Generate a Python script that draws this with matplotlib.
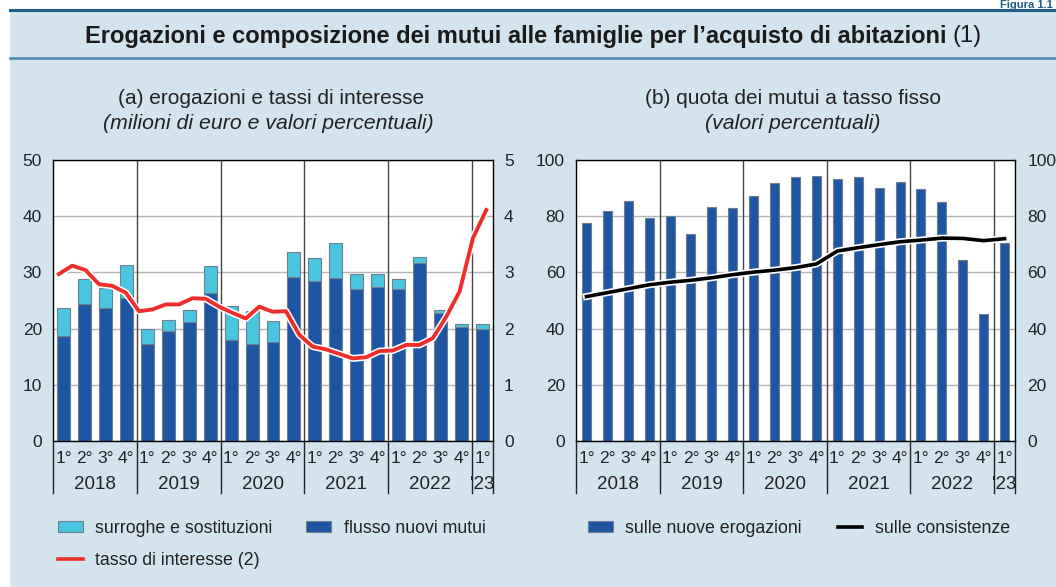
import numpy as np
import matplotlib.pyplot as plt
import matplotlib.patheffects as pe
from matplotlib.patches import Patch, Rectangle
from matplotlib.lines import Line2D
import matplotlib.transforms as mtransforms

plt.rcParams['font.family'] = ['Liberation Sans', 'DejaVu Sans']

# dati trimestrali 2018 Q1 - 2023 Q1
quarters = ['1°', '2°', '3°', '4°'] * 5 + ['1°']
years = ['2018', '2019', '2020', '2021', '2022', "'23"]

# (a) erogazioni (milioni di euro)
flusso_nuovi = [18.6, 24.3, 23.6, 25.5, 17.2, 19.5, 21.1, 26.3, 18.0, 17.3, 17.6,
                29.2, 28.4, 29.0, 27.1, 27.4, 27.1, 31.6, 22.7, 20.2, 19.9]
totale = [23.6, 28.8, 27.2, 31.3, 19.9, 21.5, 23.3, 31.1, 24.0, 23.1, 21.3,
          33.6, 32.5, 35.2, 29.7, 29.7, 28.8, 32.7, 23.3, 20.8, 20.8]
surroghe = [t - f for t, f in zip(totale, flusso_nuovi)]

# tasso di interesse (valori percentuali), osservazioni bimestrali
tasso = [2.97, 3.12, 3.04, 2.79, 2.76, 2.64, 2.31, 2.34, 2.43, 2.43, 2.54,
         2.53, 2.39, 2.28, 2.18, 2.39, 2.30, 2.31, 1.89, 1.68, 1.63, 1.55,
         1.47, 1.49, 1.60, 1.61, 1.71, 1.71, 1.83, 2.21, 2.66, 3.61, 4.11]

# (b) quota dei mutui a tasso fisso
nuove_erogazioni = [77.6, 81.7, 85.3, 79.2, 80.1, 73.7, 83.2, 82.8, 87.1, 91.8, 94.1,
                    94.2, 93.4, 94.1, 90.2, 92.1, 89.6, 85.2, 64.4, 45.1, 70.3]
consistenze = [51.4, 52.8, 54.2, 55.6, 56.5, 57.2, 58.1, 59.2, 60.1, 60.8, 61.7,
               63.0, 67.6, 68.8, 69.9, 70.9, 71.5, 72.2, 72.1, 71.3, 72.0]

W, H = 1056, 587
bg = '#d3e4ee'
dark = '#1f56a3'
cyan = '#49c5df'
red = '#ec2f2b'
edge = '#6f7f8f'
txt = '#222222'


def fx(px):
    return px / W


def fy(py):
    return 1 - py / H


fig = plt.figure(figsize=(W / 100, H / 100), dpi=100, facecolor=bg)

# cornice in alto / a sinistra
fig.patches.append(Rectangle((0, fy(10)), 1, 1 - fy(10), transform=fig.transFigure,
                             facecolor='white', edgecolor='none', zorder=0))
fig.patches.append(Rectangle((0, 0), fx(10), 1, transform=fig.transFigure,
                             facecolor='white', edgecolor='none', zorder=0))
fig.add_artist(Line2D([fx(10), 1], [fy(10), fy(10)], color='#1d5f8a', lw=2.2))
fig.add_artist(Line2D([fx(10), 1], [fy(58), fy(58)], color='#4a88b2', lw=1.8))
fig.text(fx(1053), fy(8.5), 'Figura 1.1', color='#1d5f8a', fontsize=8,
         fontweight='bold', ha='right', va='baseline')

t1 = fig.text(fx(85), fy(36), 'Erogazioni e composizione dei mutui alle famiglie per l’acquisto di abitazioni',
              fontsize=17, fontweight='bold', ha='left', va='center', color='#1a1a1a')
fig.canvas.draw()
bb = t1.get_window_extent()
fig.text(bb.x1 / W + fx(6), fy(36), '(1)', fontsize=17, ha='left', va='center', color='#1a1a1a')

x = np.arange(len(quarters))


def setup(ax, ymax, ystep):
    ax.set_facecolor('white')
    ax.set_xlim(-0.5, len(quarters) - 0.5)
    ax.set_ylim(0, ymax)
    ax.set_yticks(np.arange(0, ymax + 0.1, ystep))
    ax.tick_params(axis='y', length=0, pad=8, labelsize=12.5, colors=txt)
    ax.tick_params(axis='x', length=0, labelbottom=False)
    ax.grid(axis='y', color='#b5b5b5', lw=1)
    ax.set_axisbelow(True)
    for s in ax.spines.values():
        s.set_color('black')
        s.set_linewidth(1)
    for b in [3.5, 7.5, 11.5, 15.5, 19.5]:
        ax.axvline(b, color='#444444', lw=1, zorder=1)
    trans = mtransforms.blended_transform_factory(ax.transData, ax.transAxes)
    for b in [-0.5, 3.5, 7.5, 11.5, 15.5, 19.5, 20.5]:
        ax.plot([b, b], [0, -0.185], color=txt, lw=1, transform=trans, clip_on=False)
    for i, q in enumerate(quarters):
        ax.text(i, -0.062, q, transform=trans, ha='center', va='center', fontsize=12.5, color=txt)
    for k, yr in enumerate(years):
        xc = 20 if k == 5 else 4 * k + 1.5
        ax.text(xc, -0.155, yr, transform=trans, ha='center', va='center', fontsize=13.5, color=txt)


halo = [pe.Stroke(linewidth=5, foreground='white'), pe.Normal()]

# (a)
axL = fig.add_axes([fx(53), fy(441), fx(493) - fx(53), fy(160) - fy(441)])
setup(axL, 50, 10)
axL.bar(x, flusso_nuovi, width=0.62, color=dark, edgecolor=edge, lw=0.8, zorder=2)
axL.bar(x, surroghe, bottom=flusso_nuovi, width=0.62, color=cyan, edgecolor=edge, lw=0.8, zorder=2)
axR = axL.twinx()
axR.set_ylim(0, 5)
axR.set_yticks(range(6))
axR.tick_params(axis='y', length=0, pad=8, labelsize=12.5, colors=txt)
for s in axR.spines.values():
    s.set_visible(False)
xt = np.linspace(-0.22, 20.18, len(tasso))
axR.plot(xt, tasso, color=red, lw=2.8, path_effects=halo, solid_joinstyle='round')

fig.text(fx(271), fy(99), '(a) erogazioni e tassi di interesse', ha='center', va='center',
         fontsize=15, color=txt)
fig.text(fx(268), fy(123), '(milioni di euro e valori percentuali)', ha='center', va='center',
         fontsize=15.3, style='italic', color=txt)

# (b)
axB = fig.add_axes([fx(576), fy(441), fx(1015) - fx(576), fy(160) - fy(441)])
setup(axB, 100, 20)
axB.bar(x, nuove_erogazioni, width=0.43, color=dark, edgecolor=edge, lw=0.8, zorder=2)
axB.plot(x, consistenze, color='black', lw=2.6, path_effects=halo, zorder=3)
axB2 = axB.twinx()
axB2.set_ylim(0, 100)
axB2.set_yticks(range(0, 101, 20))
axB2.tick_params(axis='y', length=0, pad=9, labelsize=12.5, colors=txt)
for s in axB2.spines.values():
    s.set_visible(False)

fig.text(fx(793), fy(99), '(b) quota dei mutui a tasso fisso', ha='center', va='center',
         fontsize=15, color=txt)
fig.text(fx(793), fy(123), '(valori percentuali)', ha='center', va='center',
         fontsize=15.3, style='italic', color=txt)

# legende
hL = [Patch(facecolor=cyan, edgecolor=edge, lw=0.8),
      Line2D([], [], color=red, lw=2.6),
      Patch(facecolor=dark, edgecolor=edge, lw=0.8)]
fig.legend(hL, ['surroghe e sostituzioni', 'tasso di interesse (2)', 'flusso nuovi mutui'],
           loc='upper left', bbox_to_anchor=(fx(58), fy(520)), ncol=2, frameon=False,
           fontsize=12.8, handlelength=1.4, handleheight=0.6, handletextpad=0.7,
           columnspacing=1.9, labelspacing=0.85, borderpad=0, borderaxespad=0,
           labelcolor=txt)
hR = [Patch(facecolor=dark, edgecolor=edge, lw=0.8), Line2D([], [], color='black', lw=2.6)]
fig.legend(hR, ['sulle nuove erogazioni', 'sulle consistenze'],
           loc='upper left', bbox_to_anchor=(fx(588), fy(520)), ncol=2, frameon=False,
           fontsize=12.8, handlelength=1.4, handleheight=0.6, handletextpad=0.7,
           columnspacing=2.0, borderpad=0, borderaxespad=0, labelcolor=txt)

fig.savefig('out.png', dpi=100, facecolor=bg)
